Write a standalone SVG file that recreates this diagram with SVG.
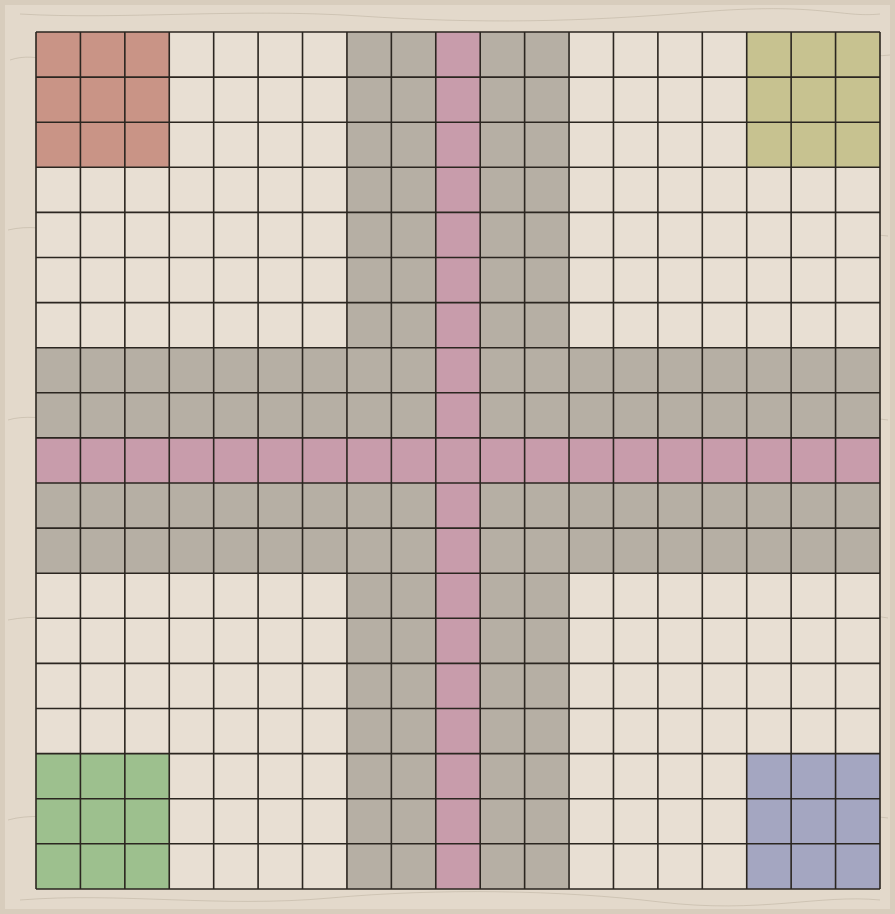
<svg xmlns="http://www.w3.org/2000/svg" width="895" height="914" viewBox="0 0 895 914">
<style>
.grid{fill:none;stroke:#2b2620;stroke-width:1.6}
.cream{fill:#e8dfd3}
.grey{fill:#b6afa4}
.pink{fill:#c89cab}
.topo{fill:none;stroke:#a89c8a;stroke-width:0.8;opacity:0.45}
</style>
<rect x="0" y="0" width="895" height="914" fill="#d8cdbd"/>
<rect x="5" y="5" width="885" height="904" fill="#e3d9cb"/>
<g id="texture">
<path class="topo" d="M10,60 C40,50 60,70 90,60 S150,45 200,62 S300,48 360,60 S480,70 560,55 S700,66 760,52 S850,60 890,55"/>
<path class="topo" d="M8,230 C50,220 80,245 130,232 S220,215 280,236 S400,222 470,240 S600,220 660,238 S800,225 888,236"/>
<path class="topo" d="M8,420 C40,410 90,432 150,418 S260,402 330,425 S460,410 520,428 S650,405 720,422 S840,412 888,420"/>
<path class="topo" d="M8,620 C60,610 100,632 160,616 S280,600 340,624 S470,606 540,626 S660,604 740,620 S850,610 888,618"/>
<path class="topo" d="M8,820 C50,808 100,832 170,816 S290,800 350,822 S480,806 550,826 S680,804 750,820 S850,812 888,818"/>
<path class="topo" d="M20,900 C120,892 220,908 330,898 S560,890 660,902 S820,894 880,900"/>
<path class="topo" d="M20,14 C120,20 240,8 360,16 S580,22 700,12 S840,18 880,14"/>
</g>
<g id="cells">
<rect id="board" class="cream" x="36" y="32" width="844" height="857"/>
<rect class="grey" x="346.94" y="32" width="88.84" height="857"/>
<rect class="grey" x="480.2" y="32" width="88.84" height="857"/>
<rect class="grey" x="36" y="347.7" width="844" height="90.2"/>
<rect class="grey" x="36" y="483" width="844" height="90.2"/>
<rect class="pink" x="435.78" y="32" width="44.42" height="857"/>
<rect class="pink" x="36" y="437.9" width="844" height="45.1"/>
<rect id="corner-red" x="36" y="32" width="133.26" height="135.3" fill="#c99486"/>
<rect id="corner-yellow" x="746.72" y="32" width="133.28" height="135.3" fill="#c7c290"/>
<rect id="corner-green" x="36" y="753.6" width="133.26" height="135.4" fill="#9dc08e"/>
<rect id="corner-blue" x="746.72" y="753.6" width="133.28" height="135.4" fill="#a4a6c1"/>
</g>
<g id="grid-lines">
<path class="grid" d="M36,32V889M80.42,32V889M124.84,32V889M169.26,32V889M213.68,32V889M258.1,32V889M302.52,32V889M346.94,32V889M391.36,32V889M435.78,32V889M480.2,32V889M524.62,32V889M569.04,32V889M613.46,32V889M657.88,32V889M702.3,32V889M746.72,32V889M791.14,32V889M835.56,32V889M880,32V889"/>
<path class="grid" d="M36,32H880M36,77.1H880M36,122.2H880M36,167.3H880M36,212.4H880M36,257.5H880M36,302.6H880M36,347.7H880M36,392.8H880M36,437.9H880M36,483H880M36,528.1H880M36,573.2H880M36,618.3H880M36,663.4H880M36,708.5H880M36,753.6H880M36,798.7H880M36,843.8H880M36,889H880"/>
</g>
</svg>
